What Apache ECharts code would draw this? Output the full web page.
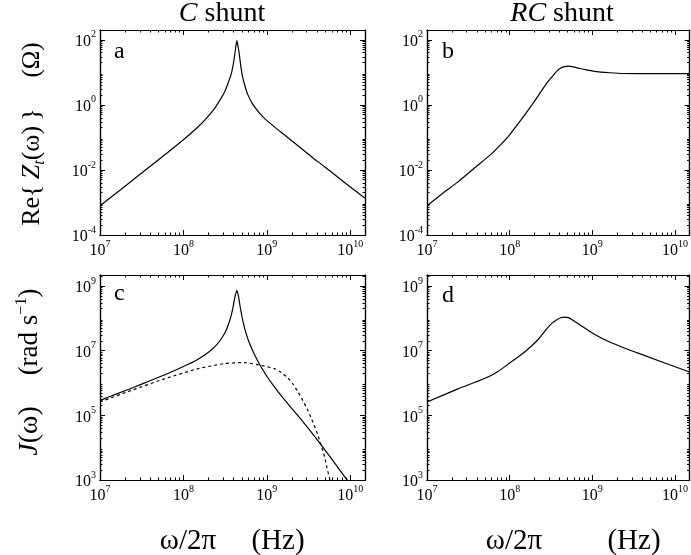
<!DOCTYPE html>
<html><head><meta charset="utf-8">
<script src="https://cdn.jsdelivr.net/npm/echarts@6/dist/echarts.min.js"></script>
<style>html,body{margin:0;padding:0;background:#fff}#c{width:691px;height:555px}</style>
</head><body><div id="c"></div>
<script>
// ---- data (frequency in Hz) ----
// panel a: Re{Z_t} for the C shunt (ohm)
const freqA = [1.0e7, 1.78e7, 3.16e7, 5.62e7, 1.0e8, 1.48e8, 1.86e8, 2.34e8, 2.69e8, 3.09e8, 3.39e8, 3.72e8, 3.89e8, 4.07e8, 4.22e8, 4.37e8, 4.52e8, 4.68e8, 4.90e8, 5.13e8, 5.50e8, 5.89e8, 6.76e8, 7.76e8, 8.91e8, 1.02e9, 1.26e9, 1.62e9, 2.34e9, 3.39e9, 4.9e9, 6.92e9, 1.0e10, 1.5e10];
const reZ_C = [7.9e-4, 2.5e-3, 8.0e-3, 0.0258, 0.085, 0.205, 0.37, 0.75, 1.3, 2.4, 4.3, 8.5, 14, 28, 55, 95, 62, 35, 14, 7.0, 3.6, 2.1, 1.05, 0.65, 0.436, 0.316, 0.20, 0.12, 0.056, 0.026, 0.0126, 6.3e-3, 3.0e-3, 1.35e-3];

// panel b: Re{Z_t} for the RC shunt (ohm)
const freqB = [1.0e7, 1.5e7, 2.37e7, 3.75e7, 5.93e7, 7.94e7, 1.0e8, 1.26e8, 1.48e8, 1.86e8, 2.34e8, 2.69e8, 3.09e8, 3.55e8, 3.8e8, 4.07e8, 4.57e8, 5.13e8, 6.03e8, 7.08e8, 8.5e8, 1.02e9, 1.26e9, 1.62e9, 2.34e9, 5.0e9, 1.5e10];
const reZ_RC = [7.9e-4, 1.8e-3, 4.3e-3, 0.0115, 0.030, 0.063, 0.12, 0.26, 0.45, 1.0, 2.34, 3.98, 6.3, 9.5, 11.5, 13.2, 15.0, 15.5, 14.5, 13.1, 11.9, 10.9, 10.2, 9.7, 9.2, 9.1, 9.1];

// panel c: J(omega) for the C shunt (rad/s), solid and dashed
const freqC = [1.0e7, 1.585e7, 2.51e7, 3.98e7, 6.31e7, 1.0e8, 1.41e8, 2.0e8, 2.51e8, 2.95e8, 3.31e8, 3.63e8, 3.89e8, 4.12e8, 4.37e8, 4.57e8, 4.79e8, 5.13e8, 5.62e8, 6.31e8, 7.94e8, 1.0e9, 1.23e9, 1.585e9, 2.51e9, 3.98e9, 6.31e9, 8.91e9, 1.0e10];
const J_C = [2.9e5, 4.6e5, 7.3e5, 1.18e6, 1.91e6, 3.24e6, 5.0e6, 9.0e6, 1.55e7, 2.7e7, 4.8e7, 9.5e7, 1.95e8, 4.3e8, 7.4e8, 4.8e8, 2.25e8, 8.9e7, 3.5e7, 1.5e7, 4.3e6, 1.62e6, 7.6e5, 3.3e5, 8.0e4, 1.8e4, 3.7e3, 1.1e3, 8.0e2];

const freqC2 = [1.0e7, 2.37e7, 5.93e7, 1.48e8, 3.09e8, 5.37e8, 7.76e8, 1.23e9, 1.48e9, 1.78e9, 2.04e9, 2.34e9, 2.69e9, 3.09e9, 3.55e9, 4.07e9, 4.47e9, 4.9e9, 5.25e9, 5.69e9, 5.89e9];
const J_C_dashed = [2.6e5, 5.9e5, 1.35e6, 2.75e6, 4.0e6, 4.3e6, 3.7e6, 2.8e6, 2.15e6, 1.45e6, 9.5e5, 5.5e5, 2.95e5, 1.45e5, 6.3e4, 2.5e4, 1.2e4, 5.4e3, 2.4e3, 1.0e3, 6.3e2];

// panel d: J(omega) for the RC shunt (rad/s)
const freqD = [1.0e7, 2.37e7, 4.9e7, 7.08e7, 1.02e8, 1.35e8, 1.78e8, 2.24e8, 2.82e8, 3.31e8, 3.72e8, 4.07e8, 4.57e8, 5.13e8, 6.03e8, 7.08e8, 1.02e9, 1.62e9, 3.72e9, 1.5e10];
const J_RC = [2.6e5, 6.6e5, 1.35e6, 2.2e6, 4.3e6, 7.2e6, 1.3e7, 2.3e7, 4.8e7, 7.4e7, 9.1e7, 1.03e8, 1.1e8, 1.06e8, 8.3e7, 6.3e7, 3.4e7, 1.86e7, 8.1e6, 2.2e6];

// tick labels
const xMajor = [1e7, 1e8, 1e9, 1e10];
const yMajorZ = [1e-4, 1e-2, 1e0, 1e2];
const yMajorJ = [1e3, 1e5, 1e7, 1e9];

// ---- chart ----
const serif = '"Liberation Serif","Times New Roman",serif';
const xRange = [1e7, 1.5e10];
const yRanges = [[1e-4, 200], [1e-4, 200], [1e3, 2.2e9], [1e3, 2.2e9]];
const grids = [
  {left: 100, top: 30, width: 265, height: 205},
  {left: 427, top: 30, width: 265, height: 205},
  {left: 100, top: 275, width: 265, height: 205},
  {left: 427, top: 275, width: 265, height: 205}
];
function minorsOf(lo, hi, max) {
  const out = [];
  for (let e = lo; e < hi; e++) for (let k = 2; k <= 9; k++) {
    const v = +(k * Math.pow(10, e)).toPrecision(6);
    if (v < max) out.push(v);
  }
  return out;
}
const xMinor = minorsOf(7, 11, xRange[1]);
function pow10Label(v) {
  const e = Math.round(Math.log10(v));
  return '{b|10}{s|' + e + '}';
}
const labelRich = {
  b: {fontFamily: serif, fontSize: 16, color: '#000', lineHeight: 20, verticalAlign: 'bottom'},
  s: {fontFamily: serif, fontSize: 10, color: '#000', lineHeight: 10, verticalAlign: 'top'}
};
function axisDef(gi, pos, range, ticks, len, labels) {
  const a = {
    type: 'log', logBase: 10, gridIndex: gi, position: pos, min: range[0], max: range[1],
    axisLine: {show: true, onZero: false, lineStyle: {color: '#000', width: 1.2}},
    axisTick: {show: true, inside: true, length: len, customValues: ticks, lineStyle: {color: '#000', width: 1}},
    axisLabel: {show: labels, formatter: pow10Label, rich: labelRich, margin: 4},
    splitLine: {show: false}, minorTick: {show: false}, splitArea: {show: false}
  };
  if (labels) a.axisLabel.customValues = ticks;
  return a;
}
const xAxes = [], yAxes = [];
grids.forEach((g, i) => {
  const yr = yRanges[i];
  const yMaj = i < 2 ? yMajorZ : yMajorJ;
  const yMin = i < 2 ? minorsOf(-4, 3, yr[1]) : minorsOf(3, 10, yr[1]);
  ['bottom', 'top'].forEach(pos => {
    xAxes.push(axisDef(i, pos, xRange, xMajor, 5, pos === 'bottom'));
    xAxes.push(axisDef(i, pos, xRange, xMinor, 2.5, false));
  });
  ['left', 'right'].forEach(pos => {
    yAxes.push(axisDef(i, pos, yr, yMaj, 5, pos === 'left'));
    yAxes.push(axisDef(i, pos, yr, yMin, 2.5, false));
  });
});
function pairs(xs, ys) { return xs.map((x, k) => [x, ys[k]]); }
function line(gi, data, dashed) {
  return {
    type: 'line', xAxisIndex: gi * 4, yAxisIndex: gi * 4, data: data,
    showSymbol: false, symbol: 'none', clip: true, smooth: 0.2, silent: true, animation: false,
    lineStyle: {color: '#000', width: 1.2, type: dashed ? [3, 3] : 'solid'}
  };
}
const series = [
  line(0, pairs(freqA, reZ_C)),
  line(1, pairs(freqB, reZ_RC)),
  line(2, pairs(freqC, J_C)),
  line(2, pairs(freqC2, J_C_dashed), true),
  line(3, pairs(freqD, J_RC))
];
function txt(x, y, text, size, extra) {
  extra = extra || {};
  return Object.assign({
    type: 'text', x: x, y: y, silent: true,
    style: Object.assign({text: text, fontFamily: serif, fontSize: size, fill: '#000', align: 'center', verticalAlign: 'middle'}, extra.style || {})
  }, extra.el || {});
}
const R = Math.PI / 2;
const italic = {fontFamily: serif, fontStyle: 'italic'};
const graphic = [
  txt(222, 14, '{i|C} shunt', 28, {style: {rich: {i: Object.assign({fontSize: 28}, italic)}}}),
  txt(562, 14, '{i|RC} shunt', 28, {style: {rich: {i: Object.assign({fontSize: 28}, italic)}}}),
  txt(114, 52, 'a', 24, {style: {align: 'left'}}),
  txt(442, 52, 'b', 24, {style: {align: 'left'}}),
  txt(114, 294, 'c', 24, {style: {align: 'left'}}),
  txt(442, 296, 'd', 24, {style: {align: 'left'}}),
  txt(32, 167, '{n|Re{\u2009}{i|Z}{sub|t}{n|(ω)\u2009}}', 26, {el: {rotation: R}, style: {lineHeight: 32, rich: {
    n: {fontFamily: serif, fontSize: 26, lineHeight: 32},
    i: Object.assign({fontSize: 26, lineHeight: 32}, italic),
    sub: Object.assign({fontSize: 16, lineHeight: 16, verticalAlign: 'bottom'}, italic)
  }}}),
  txt(32, 60, '(Ω)', 25, {el: {rotation: R}}),
  txt(30, 332, '{n|(rad s}{sup|−1}{n|)}', 27, {el: {rotation: R}, style: {rich: {
    n: {fontFamily: serif, fontSize: 27, lineHeight: 32},
    sup: {fontFamily: serif, fontSize: 16, lineHeight: 16, verticalAlign: 'top'}
  }}}),
  txt(30, 431, '{i|J}{n|(ω)}', 28, {el: {rotation: R}, style: {rich: {
    n: {fontFamily: serif, fontSize: 28},
    i: Object.assign({fontSize: 28}, italic)
  }}}),
  txt(188, 541, 'ω/2π', 29),
  txt(278, 541, '(Hz)', 29),
  txt(514, 541, 'ω/2π', 29),
  txt(634, 541, '(Hz)', 29)
];
const chart = echarts.init(document.getElementById('c'), null, {renderer: 'canvas'});
chart.setOption({
  animation: false,
  backgroundColor: '#fff',
  grid: grids.map(g => Object.assign({containLabel: false}, g)),
  xAxis: xAxes,
  yAxis: yAxes,
  series: series,
  graphic: graphic
});
</script>
</body></html>
